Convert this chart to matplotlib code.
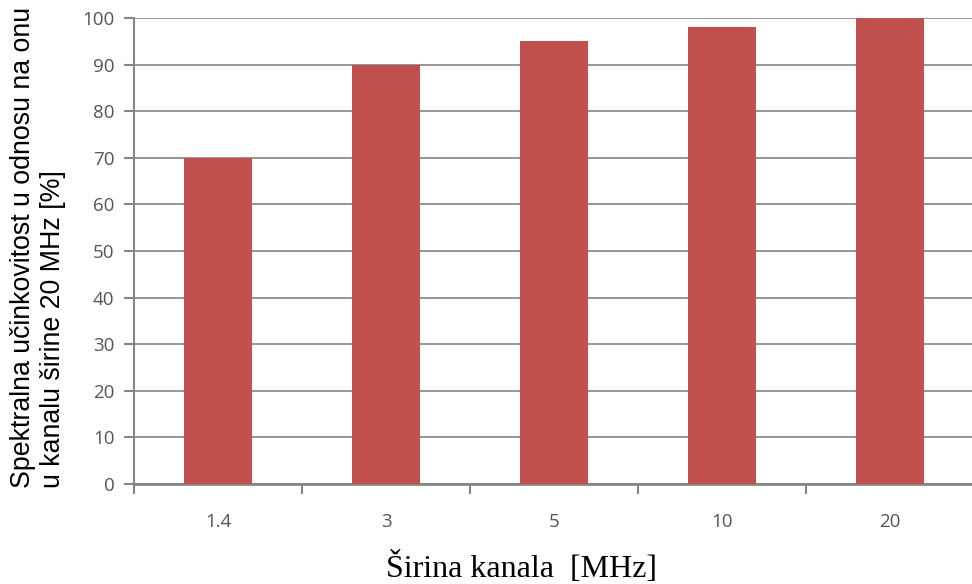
import numpy as np
import matplotlib.pyplot as plt

# channel widths and relative spectral efficiency
categories = ['1.4', '3', '5', '10', '20']
efficiency = [70, 90, 95, 98, 100]

fig = plt.figure(figsize=(9.72, 5.84), dpi=100)
ax = fig.add_axes([134 / 972, 1 - 484 / 584, 840 / 972, 466 / 584])

x = np.arange(len(categories))
ax.bar(x, efficiency, width=0.4, color='#c0504d', zorder=3)

ax.set_xlim(-0.5, len(categories) - 0.5)
ax.set_ylim(0, 100)
ax.set_yticks(range(0, 101, 10))
ax.yaxis.grid(True, color='#8c8c8c', linewidth=1.3, zorder=0)

# category labels in the middle, tick marks on the boundaries
ax.set_xticks(x)
ax.set_xticklabels(categories)
ax.set_xticks(np.arange(-0.5, len(categories), 1.0), minor=True)
ax.tick_params(axis='x', which='major', length=0, pad=21,
               labelsize=13.5, labelcolor='#555555')
ax.tick_params(axis='x', which='minor', length=7, width=1.5,
               color='#868686', direction='out')
ax.tick_params(axis='y', length=7, width=1.5, color='#868686',
               labelsize=13.5, labelcolor='#555555', pad=7)
for lbl in ax.get_xticklabels() + ax.get_yticklabels():
    lbl.set_family('Open Sans')

for side in ['top', 'right']:
    ax.spines[side].set_visible(False)
ax.spines['left'].set_color('#868686')
ax.spines['left'].set_linewidth(1.5)
ax.spines['bottom'].set_color('#868686')
ax.spines['bottom'].set_linewidth(2)

ax.set_xlabel('Širina kanala  [MHz]', family='Liberation Serif', fontsize=23)
ax.xaxis.set_label_coords((521 - 134) / 840, -(577 - 484) / 466)
ax.xaxis.label.set_verticalalignment('baseline')

fig.text(38 / 972, 1 - 488 / 584,
         'Spektralna učinkovitost u odnosu na onu\nu kanalu širine 20 MHz [%]',
         family='Liberation Sans', fontsize=19.3, rotation=90,
         ha='center', va='bottom', multialignment='left', linespacing=1.15)

fig.savefig('out.png', dpi=100)
